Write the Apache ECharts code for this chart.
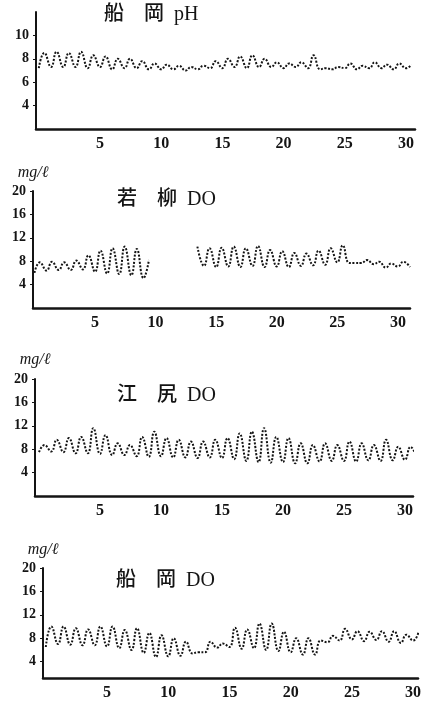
<!DOCTYPE html>
<html>
<head>
<meta charset="utf-8">
<script src="https://cdn.jsdelivr.net/npm/echarts@6/dist/echarts.min.js"></script>
<style>
  html, body { margin: 0; padding: 0; background: #fff; }
  #chart { width: 427px; height: 708px; }
</style>
</head>
<body>
<div id="chart"></div>
<script>
// Tick labels
const dayTicks = [5, 10, 15, 20, 25, 30];
const phTickLabels = [4, 6, 8, 10];
const doTickLabels = [4, 8, 12, 16, 20];

// Daily minimum (early morning) and maximum (midday) readings, index 0 = first day.
// 船岡 pH
const funaokaPhLow  = [7.2, 7.3, 7.3, 7.3, 7.2, 7.3, 7.1, 7.2, 7.2, 7.1, 7.1, 7.1, 7.0, 7.1, 7.2, 7.2,
                       7.3, 7.2, 7.3, 7.3, 7.2, 7.3, 7.2, 7.1, 7.1, 7.2, 7.1, 7.2, 7.2, 7.1, 7.2];
const funaokaPhHigh = [8.5, 8.6, 8.5, 8.6, 8.3, 8.2, 8.0, 8.0, 7.8, 7.6, 7.5, 7.4, 7.3, 7.4, 7.8, 8.0,
                       8.2, 8.3, 8.0, 7.7, 7.6, 7.7, 8.3, 7.2, 7.3, 7.6, 7.4, 7.7, 7.5, 7.6, 7.5];

// 若柳 DO (mg/ℓ) — no record for days 11–13
const wakayanagiDoLow  = [6.0, 6.4, 6.5, 6.5, 6.6, 6.2, 5.9, 5.8, 5.6, 5.1, null, null, null, null, 7.2, 7.0,
                          7.1, 7.0, 7.2, 7.0, 7.1, 7.0, 7.2, 7.3, 7.4, 7.8, 7.7, 7.7, 7.5, 6.9, 7.1, 7.0];
const wakayanagiDoHigh = [7.8, 7.9, 7.8, 8.1, 9.0, 9.8, 10.2, 10.5, 10.1, 8.2, null, null, null, 10.5, 10.2, 10.3,
                          10.5, 10.2, 10.6, 9.9, 9.7, 9.4, 9.3, 9.8, 10.2, 10.7, 7.7, 8.2, 7.9, 7.6, 7.9];

// 江尻 DO (mg/ℓ)
const ejiriDoLow  = [7.5, 7.6, 7.5, 7.3, 7.3, 7.2, 7.0, 7.0, 6.8, 6.7, 6.8, 6.6, 6.6, 6.5, 6.6, 6.5,
                     6.3, 6.0, 5.8, 5.7, 5.8, 5.6, 5.6, 5.9, 6.0, 6.0, 5.9, 6.1, 6.0, 6.1, 6.2, 6.3];
const ejiriDoHigh = [8.7, 9.6, 9.9, 10.1, 11.6, 10.4, 9.0, 8.7, 10.1, 11.0, 9.9, 9.6, 9.3, 9.3, 9.6, 9.9,
                     10.7, 11.0, 11.6, 10.1, 9.9, 9.0, 8.7, 9.0, 8.7, 9.3, 9.0, 8.7, 9.6, 8.4, 8.4];

// 船岡 DO (mg/ℓ)
const funaokaDoLow  = [6.5, 7.0, 6.9, 6.8, 6.8, 6.6, 6.3, 6.0, 5.5, 4.8, 4.9, 5.0, 5.4, 5.6, 6.4, 6.5,
                       6.2, 6.3, 6.0, 5.8, 5.6, 5.2, 5.2, 7.3, 7.6, 7.8, 7.5, 7.7, 7.4, 7.2, 7.6];
const funaokaDoHigh = [10.0, 10.0, 9.7, 9.5, 10.0, 10.0, 9.4, 9.7, 8.9, 8.5, 8.0, 7.4, 5.6, 7.4, 7.1, 9.8,
                       9.5, 10.5, 10.5, 9.1, 8.0, 8.0, 7.6, 8.4, 9.6, 9.2, 9.1, 9.2, 9.2, 8.6, 9.1];

// Time of day (fraction of a day) for the minimum and maximum readings
const LOW_AT = 0.0;
const HIGH_AT = 0.45;

function buildTrace(lows, highs) {
  const pts = [];
  for (let i = 0; i < lows.length; i++) {
    pts.push([i + LOW_AT, lows[i]]);
    if (i < highs.length) pts.push([i + HIGH_AT, highs[i]]);
  }
  return pts;
}

const serifFont = "'Liberation Serif', 'Noto Sans CJK JP', serif";
const ink = '#141414';

const panels = [
  { title: '船\u3000岡  pH', titleLeft: 104, titleTop: 5,
    left: 36, top: 12, width: 379, height: 117,
    xMin: -0.23, xMax: 30.74, yMin: 2, yMax: 12, yLabels: phTickLabels, unit: '', unitGap: 0,
    data: buildTrace(funaokaPhLow, funaokaPhHigh) },
  { title: '若\u3000柳  DO', titleLeft: 117, titleTop: 190,
    left: 33, top: 191, width: 377, height: 117,
    xMin: -0.12, xMax: 31.0, yMin: 0, yMax: 20, yLabels: doTickLabels, unit: 'mg/ℓ', unitGap: 10,
    data: buildTrace(wakayanagiDoLow, wakayanagiDoHigh) },
  { title: '江\u3000尻  DO', titleLeft: 117, titleTop: 386,
    left: 35, top: 379, width: 378, height: 117,
    xMin: -0.33, xMax: 30.66, yMin: 0, yMax: 20, yLabels: doTickLabels, unit: 'mg/ℓ', unitGap: 11,
    data: buildTrace(ejiriDoLow, ejiriDoHigh) },
  { title: '船\u3000岡  DO', titleLeft: 116, titleTop: 571,
    left: 43, top: 568, width: 375, height: 110,
    xMin: -0.23, xMax: 30.4, yMin: 1.2, yMax: 20, yLabels: doTickLabels, unit: 'mg/ℓ', unitGap: 10,
    data: buildTrace(funaokaDoLow, funaokaDoHigh) }
];

const chart = echarts.init(document.getElementById('chart'), null, { renderer: 'canvas' });

chart.setOption({
  backgroundColor: '#ffffff',
  animation: false,
  title: panels.map(p => ({
    text: p.title,
    left: p.titleLeft,
    top: p.titleTop,
    padding: 0,
    textStyle: { fontFamily: serifFont, fontSize: 20, fontWeight: 500, color: ink }
  })),
  grid: panels.map(p => ({ left: p.left, top: p.top, width: p.width, height: p.height })),
  xAxis: panels.map((p, i) => ({
    gridIndex: i,
    type: 'value',
    min: p.xMin,
    max: p.xMax,
    splitLine: { show: false },
    axisTick: { show: false },
    axisLine: { show: true, onZero: false, lineStyle: { color: ink, width: 2.5 } },
    axisLabel: {
      customValues: dayTicks,
      margin: 7,
      fontFamily: serifFont,
      fontSize: 16,
      fontWeight: 'bold',
      color: ink
    }
  })),
  yAxis: panels.map((p, i) => ({
    gridIndex: i,
    type: 'value',
    min: p.yMin,
    max: p.yMax,
    splitLine: { show: false },
    axisLine: { show: true, onZero: false, lineStyle: { color: ink, width: 2 } },
    axisTick: { show: true, customValues: p.yLabels, length: 3, lineStyle: { color: ink, width: 1 } },
    axisLabel: {
      customValues: p.yLabels,
      margin: 7,
      fontFamily: serifFont,
      fontSize: 14,
      fontWeight: 'bold',
      color: ink
    },
    name: p.unit,
    nameLocation: 'end',
    nameGap: p.unitGap,
    nameTextStyle: { fontFamily: serifFont, fontStyle: 'italic', fontSize: 16, color: ink }
  })),
  series: panels.map((p, i) => ({
    type: 'line',
    xAxisIndex: i,
    yAxisIndex: i,
    data: p.data,
    smooth: 0.5,
    showSymbol: false,
    connectNulls: false,
    lineStyle: { color: ink, width: 2, type: [2, 1.6] }
  }))
});
</script>
</body>
</html>
